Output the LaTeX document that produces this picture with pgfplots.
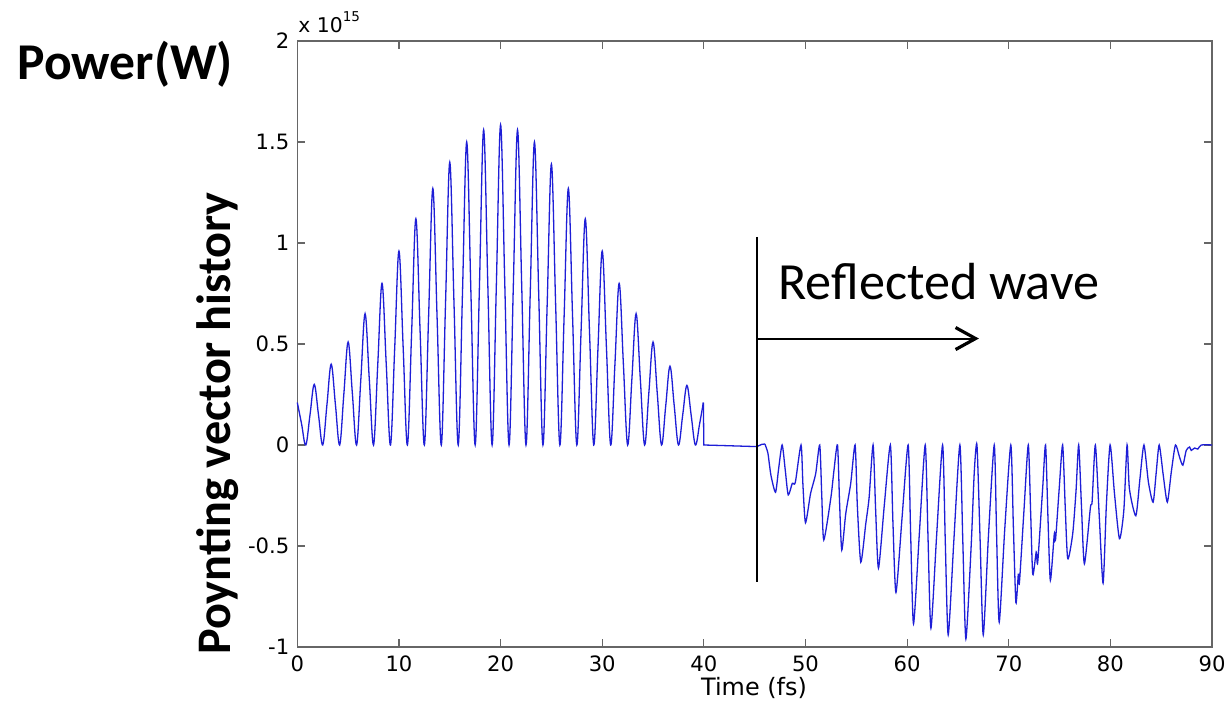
\documentclass[border=0pt]{standalone}
\usepackage{pgfplots}
\pgfplotsset{compat=1.18}
\usepackage{fontspec}
\setmainfont{Carlito}
\newfontfamily\dejavu{DejaVu Sans}
\usetikzlibrary{arrows.meta}
\definecolor{mblue}{RGB}{30,30,215}
\begin{document}
\begin{tikzpicture}[x=0.5bp,y=0.5bp]
\fill[white] (0,0) rectangle (1228,702);
\path[use as bounding box] (0,0) rectangle (1228,702);
\begin{axis}[
  at={(148.65bp,27.5bp)}, anchor=south west,
  scale only axis, width=457.35bp, height=303bp,
  xmin=0, xmax=90, ymin=-1, ymax=2,
  xtick={0,10,20,30,40,50,60,70,80,90},
  xticklabels={0,10,20,30,40,50,60,70,80,90},
  ytick={-1,-0.5,0,0.5,1,1.5,2},
  yticklabels={-1,-0.5,0,0.5,1,1.5,2},
  tick align=inside, major tick length=4bp,
  axis line style={black!60, line width=0.6bp},
  every tick/.style={black!60, line width=0.6bp},
  ticklabel style={font=\dejavu\fontsize{10.6}{12}\selectfont},
  xticklabel style={yshift=-1bp},
  yticklabel style={xshift=-0.5bp},
  clip=false,
]
\addplot[mblue, line width=0.65bp, smooth, tension=0.6] coordinates {
(0,0.21) (0.417,0.105) (0.833,0) (1.25,0.15)
(1.667,0.30) (2.083,0.15) (2.5,0) (2.917,0.20)
(3.333,0.40) (3.75,0.20) (4.167,0) (4.583,0.255)
(5.0,0.51) (5.417,0.255) (5.833,0) (6.25,0.325)
(6.667,0.65) (7.083,0.325) (7.5,0) (7.917,0.40)
(8.333,0.80) (8.75,0.40) (9.167,0) (9.583,0.48)
(10.0,0.96) (10.417,0.48) (10.833,0) (11.25,0.56)
(11.667,1.12) (12.083,0.56) (12.5,0) (12.917,0.635)
(13.333,1.27) (13.75,0.635) (14.167,0) (14.583,0.70)
(15.0,1.40) (15.417,0.70) (15.833,0) (16.25,0.75)
(16.667,1.50) (17.083,0.75) (17.5,0) (17.917,0.78)
(18.333,1.56) (18.75,0.78) (19.167,0) (19.583,0.79)
(20.0,1.585) (20.417,0.79) (20.833,0) (21.25,0.78)
(21.667,1.56) (22.083,0.78) (22.5,0) (22.917,0.75)
(23.333,1.50) (23.75,0.75) (24.167,0) (24.583,0.695)
(25.0,1.39) (25.417,0.695) (25.833,0) (26.25,0.635)
(26.667,1.27) (27.083,0.635) (27.5,0) (27.917,0.56)
(28.333,1.12) (28.75,0.56) (29.167,0) (29.583,0.48)
(30.0,0.96) (30.417,0.48) (30.833,0) (31.25,0.40)
(31.667,0.80) (32.083,0.40) (32.5,0) (32.917,0.325)
(33.333,0.65) (33.75,0.325) (34.167,0) (34.583,0.255)
(35.0,0.51) (35.417,0.255) (35.833,0) (36.25,0.195)
(36.667,0.39) (37.083,0.195) (37.5,0) (37.917,0.148)
(38.333,0.295) (38.75,0.148) (39.167,0) (39.583,0.105)
(39.95,0.21)
};
\addplot[mblue, line width=0.65bp, sharp plot] coordinates {
(39.95,0.21) (40.0,0) (42,-0.003) (45.2,-0.008) (45.7,0.003) (46.0,0.005)
};
\addplot[mblue, line width=0.65bp, smooth, tension=0.4] coordinates {
(46.0,0.005) (46.3,-0.04) (46.6,-0.15) (47.05,-0.234) (47.35,-0.12) (47.7,0)
(48.0,-0.12) (48.3,-0.247) (48.7,-0.19) (49.0,-0.185) (49.56,0)
(49.75,-0.2) (50.0,-0.385) (50.5,-0.24) (51.0,-0.143) (51.4,0)
(51.6,-0.25) (51.8,-0.47) (52.5,-0.26) (52.8,-0.126) (53.15,0)
(53.35,-0.28) (53.57,-0.52) (53.96,-0.34) (54.45,-0.19) (54.88,0)
(55.1,-0.3) (55.44,-0.58) (55.93,-0.39) (56.26,-0.26) (56.65,0)
(56.9,-0.32) (57.18,-0.61) (57.75,-0.3) (58.35,0)
(58.6,-0.38) (58.9,-0.73) (59.5,-0.36) (60.1,0)
(60.35,-0.45) (60.63,-0.885) (61.2,-0.44) (61.78,0)
(62.05,-0.45) (62.34,-0.907) (62.9,-0.45) (63.49,0)
(63.75,-0.47) (64.04,-0.94) (64.6,-0.47) (65.19,0)
(65.48,-0.48) (65.78,-0.96) (66.3,-0.5) (66.6,-0.14) (66.87,0)
(67.18,-0.47) (67.49,-0.94) (68.0,-0.45) (68.57,0)
(68.8,-0.44) (69.06,-0.877) (69.6,-0.42) (70.2,0)
(70.45,-0.4) (70.7,-0.78) (70.94,-0.64) (71.05,-0.68) (71.5,-0.32) (71.92,0)
(72.15,-0.33) (72.36,-0.64) (72.7,-0.53) (72.85,-0.58) (73.34,-0.21) (73.62,0)
(73.85,-0.35) (74.09,-0.67) (74.48,-0.44) (74.6,-0.47) (74.97,-0.21) (75.3,0)
(75.55,-0.3) (75.8,-0.563) (76.29,-0.44) (76.62,-0.225) (76.88,0)
(77.15,-0.3) (77.44,-0.588) (78.03,-0.31) (78.2,-0.28) (78.52,0)
(78.9,-0.35) (79.28,-0.684) (79.6,-0.3) (79.97,0)
(80.4,-0.24) (80.89,-0.464) (81.32,-0.324) (81.64,0)
(81.87,-0.217) (82.5,-0.35) (82.9,-0.17) (83.3,0)
(83.74,-0.184) (84.2,-0.283) (84.5,-0.14) (84.8,0)
(85.2,-0.15) (85.6,-0.283) (86.0,-0.13) (86.4,0)
(86.8,-0.06) (87.13,-0.10) (87.46,-0.027) (87.79,-0.01) (87.95,-0.027) (88.28,-0.015) (88.6,-0.02) (88.94,0) (90,0)
};
\draw[black, line width=1bp] (axis cs:45.2,1.03) -- (axis cs:45.2,-0.68);
\draw[black, line width=1bp, -{Straight Barb[length=10bp,width=11bp,line width=1.6bp]}] (axis cs:45.2,0.527) -- (axis cs:67.06,0.527);
\end{axis}
\node[anchor=base west, inner sep=0, font=\fontsize{26.2}{30}\selectfont] at (778,402) {Reflected wave};
\node[anchor=base west, inner sep=0, font=\bfseries\fontsize{25.9}{30}\selectfont] at (17,622) {Power(W)};
\node[anchor=base, inner sep=0, rotate=90, font=\bfseries\fontsize{24.2}{28}\selectfont] at (230,278.5) {Poynting vector history};
\node[anchor=base west, inner sep=0, font=\dejavu\fontsize{10.2}{11}\selectfont] at (298,669) {x 10\raisebox{5.5bp}{\fontsize{6.8}{7}\selectfont 15}};
\node[anchor=base, inner sep=0, font=\dejavu\fontsize{12}{13}\selectfont] at (754,7) {Time (fs)};
\end{tikzpicture}
\end{document}
